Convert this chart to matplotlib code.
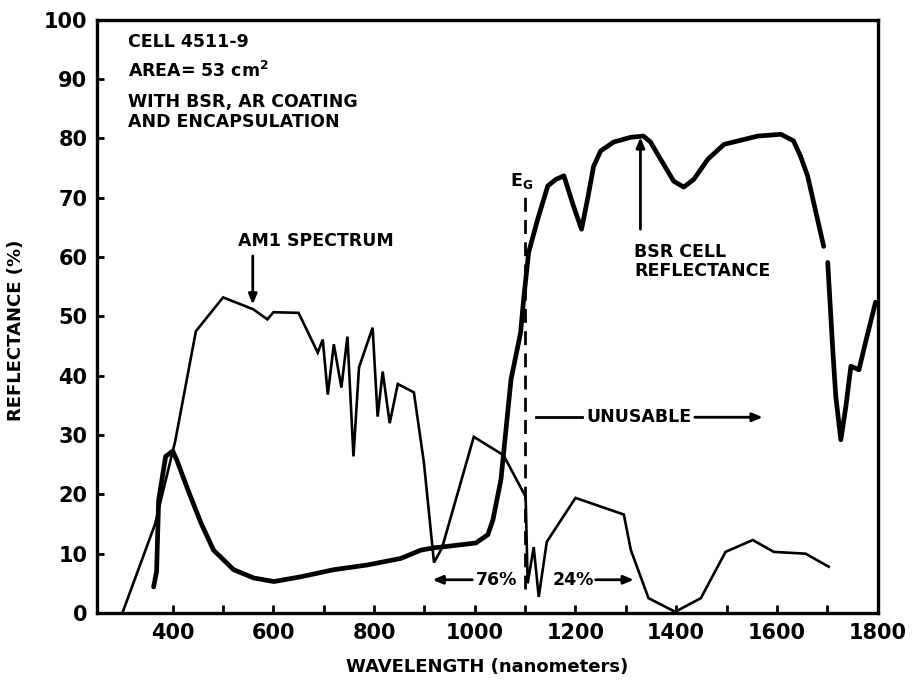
import numpy as np
import matplotlib.pyplot as plt

# AM1 solar spectrum (thin line)
am1_nm = [300, 365, 405, 446, 500, 560, 588, 600, 650, 688, 698, 708, 720, 735, 747, 759, 770,
          797, 807, 817, 831, 847, 879, 899, 919, 935, 998, 1057, 1101, 1105, 1117,
          1127, 1143, 1200, 1296, 1310, 1345, 1398, 1449, 1498, 1552, 1594, 1657, 1703]
am1_val = [0, 15.0, 29.0, 47.5, 53.2, 51.2, 49.5, 50.7, 50.6, 43.9, 46.1, 36.8, 45.3, 38.0, 46.6, 26.4, 41.4,
           48.1, 33.1, 40.7, 32.0, 38.6, 37.2, 25.3, 8.5, 11.0, 29.7, 26.6, 19.6, 5.0, 11.1,
           2.7, 12.0, 19.4, 16.6, 10.6, 2.5, 0.2, 2.5, 10.3, 12.3, 10.3, 10.0, 7.8]

# BSR cell reflectance (thick line), NaN marks the small break in the trace
bsr_nm = [362, 368, 372, 386, 400, 408, 430, 456, 481, 521, 561, 601, 654, 720, 787, 853,
          893, 919, 932, 972, 1002, 1026, 1036, 1052, 1062, 1072, 1087, 1091, 1097, 1107, 1125,
          1145, 1161, 1177, 1196, 1212, 1224, 1236, 1250, 1276, 1310, 1335, 1349, 1369, 1395,
          1415, 1435, 1463, 1495, 1562, 1608, 1633, 1647, 1661, 1693, 1697, 1701, 1711, 1717,
          1727, 1737, 1747, 1763, 1776, 1796]
bsr_val = [4.4, 7.0, 19.0, 26.4, 27.3, 25.8, 20.8, 15.2, 10.6, 7.3, 5.9, 5.3, 6.1, 7.3, 8.1, 9.2,
           10.6, 11.0, 11.1, 11.5, 11.8, 13.2, 15.7, 22.5, 31.0, 39.4, 45.6, 47.3, 52.9, 60.8, 66.4,
           72.0, 73.1, 73.7, 68.6, 64.7, 69.8, 75.3, 77.9, 79.4, 80.2, 80.4, 79.4, 76.5, 72.8,
           71.8, 73.1, 76.5, 79.0, 80.4, 80.7, 79.6, 77.0, 73.7, 61.8, np.nan, 59.1, 44.4, 36.5,
           29.2, 34.8, 41.6, 41.0, 45.6, 52.4]

x_major = [400, 600, 800, 1000, 1200, 1400, 1600, 1800]
x_minor = [500, 700, 900, 1100, 1300, 1500, 1700]
y_major = list(range(0, 101, 10))
eg_nm = 1100

plt.rcParams['font.family'] = 'DejaVu Sans'
plt.rcParams['font.weight'] = 'bold'

fig = plt.figure(figsize=(9.17, 6.83), dpi=100)
ax = fig.add_axes([0.106, 0.1025, 0.851, 0.8685])

ax.plot(am1_nm, am1_val, color='black', lw=1.9, solid_joinstyle='miter')
ax.plot(bsr_nm, bsr_val, color='black', lw=3.4, solid_capstyle='round', solid_joinstyle='round')
ax.plot([eg_nm, eg_nm], [4, 70.5], color='black', lw=2, linestyle=(0, (5, 3)))

ax.set_xlim(250, 1800)
ax.set_ylim(0, 100)
ax.set_xticks(x_major)
ax.set_xticks(x_minor, minor=True)
ax.set_yticks(y_major)
ax.tick_params(axis='both', which='both', direction='in', width=2, labelsize=15)
ax.tick_params(axis='x', which='both', length=6, pad=7)
ax.tick_params(axis='y', length=5, pad=7)
for s in ax.spines.values():
    s.set_linewidth(2.4)

ax.set_xlabel('WAVELENGTH (nanometers)', fontsize=13, fontweight='bold', labelpad=11)
ax.set_ylabel('REFLECTANCE (%)', fontsize=13, fontweight='bold')
ax.yaxis.set_label_coords(-0.092, 0.477)

fs = 12.5
ax.text(311, 96.3, 'CELL 4511-9', fontsize=fs, va='center', ha='left')
ax.text(311, 91.4, 'AREA= 53 cm$^{\\mathbf{2}}$', fontsize=fs, va='center', ha='left')
ax.text(311, 86.1, 'WITH BSR, AR COATING', fontsize=fs, va='center', ha='left')
ax.text(311, 82.8, 'AND ENCAPSULATION', fontsize=fs, va='center', ha='left')

arr = dict(arrowstyle='-|>,head_length=0.6,head_width=0.25', color='black', lw=2,
           shrinkA=0, shrinkB=0)
ax.text(685, 62.7, 'AM1 SPECTRUM', fontsize=fs, ha='center', va='center')
ax.annotate('', xy=(559, 52.0), xytext=(559, 60.2), arrowprops=arr)

ax.text(1093, 72.8, 'E$_\\mathbf{G}$', fontsize=fs, ha='center', va='center')

ax.text(1316, 60.8, 'BSR CELL', fontsize=fs, ha='left', va='center')
ax.text(1316, 57.6, 'REFLECTANCE', fontsize=fs, ha='left', va='center')
ax.annotate('', xy=(1329, 80.2), xytext=(1329, 64.7), arrowprops=arr)

ax.text(1327, 33, 'UNUSABLE', fontsize=fs, ha='center', va='center')
ax.plot([1121, 1212], [33, 33], color='black', lw=2)
ax.annotate('', xy=(1572, 33), xytext=(1437, 33), arrowprops=arr)

ax.text(1044, 5.6, '76%', fontsize=fs, ha='center', va='center')
ax.annotate('', xy=(916, 5.6), xytext=(995, 5.6), arrowprops=arr)
ax.text(1195, 5.6, '24%', fontsize=fs, ha='center', va='center')
ax.annotate('', xy=(1316, 5.6), xytext=(1240, 5.6), arrowprops=arr)

fig.savefig('out.png', dpi=100)
